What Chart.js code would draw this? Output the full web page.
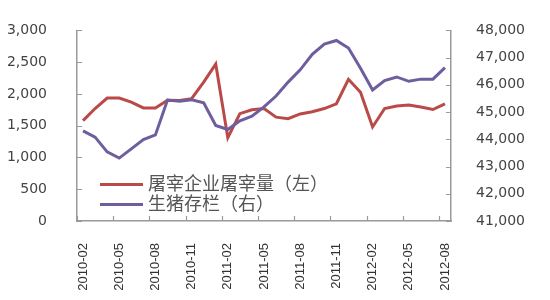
<!DOCTYPE html>
<html>
<head>
<meta charset="utf-8">
<script src="https://cdn.jsdelivr.net/npm/chart.js@4.4.0/dist/chart.umd.min.js"></script>
<style>
  body { margin: 0; background: #fff; }
  #wrap { position: relative; width: 550px; height: 300px; }
  #legend {
    position: absolute; left: 100px; top: 172px;
    font-family: "Noto Sans CJK SC", sans-serif; font-size: 18px; color: #555;
    line-height: 20px;
  }
  #legend div { white-space: nowrap; }
  #legend span {
    display: inline-block; width: 43px; height: 3px; margin-right: 5px;
    vertical-align: middle; position: relative; top: -1px;
  }
</style>
</head>
<body>
<div id="wrap">
  <canvas id="chart" width="550" height="300"></canvas>
  <div id="legend"></div>
</div>
<script>
// monthly categories
const months = [
  "2010-02", "2010-03", "2010-04", "2010-05", "2010-06", "2010-07", "2010-08",
  "2010-09", "2010-10", "2010-11", "2010-12", "2011-01", "2011-02", "2011-03",
  "2011-04", "2011-05", "2011-06", "2011-07", "2011-08", "2011-09", "2011-10",
  "2011-11", "2011-12", "2012-01", "2012-02", "2012-03", "2012-04", "2012-05",
  "2012-06", "2012-07", "2012-08"
];

// 屠宰企业屠宰量 (left axis)
const slaughter = [
  1580, 1770, 1935, 1935, 1870, 1780, 1780, 1900, 1895, 1925, 2185,
  2470, 1310, 1690, 1750, 1770, 1635, 1610, 1685, 1720, 1770, 1845,
  2230, 2025, 1480, 1770, 1810, 1825, 1795, 1755, 1845
];

// 生猪存栏 (right axis)
const hogStock = [
  44310, 44080, 43540, 43310, 43650, 43990, 44160, 45440, 45400, 45450, 45340,
  44510, 44360, 44680, 44850, 45190, 45590, 46100, 46550, 47120, 47500, 47630,
  47350, 46610, 45810, 46160, 46290, 46130, 46210, 46210, 46630
];

const seriesNames = ["屠宰企业屠宰量（左）", "生猪存栏（右）"];
const seriesColors = ["#B94A47", "#6F5E9E"];

const axisGray = "#9a9a9a";
const tickFont = { family: "DejaVu Sans", size: 14 };

// short inward tick marks like the original
const innerTicks = {
  id: "innerTicks",
  afterDraw(chart) {
    const { ctx, chartArea: a, scales } = chart;
    ctx.save();
    ctx.strokeStyle = axisGray;
    ctx.lineWidth = 1.2;
    ctx.beginPath();
    scales.y.ticks.forEach((t, i) => {
      const py = Math.round(scales.y.getPixelForTick(i)) + 0.5;
      ctx.moveTo(a.left, py);
      ctx.lineTo(a.left + 5, py);
    });
    scales.y1.ticks.forEach((t, i) => {
      const py = Math.round(scales.y1.getPixelForTick(i)) + 0.5;
      ctx.moveTo(a.right, py);
      ctx.lineTo(a.right - 5, py);
    });
    const n = months.length;
    const w = (a.right - a.left) / n;
    for (let i = 0; i < n; i += 3) {
      const px = Math.round(a.left + i * w) + 0.5;
      ctx.moveTo(px, a.bottom);
      ctx.lineTo(px, a.bottom - 5);
    }
    ctx.stroke();
    ctx.restore();
  }
};

new Chart(document.getElementById("chart"), {
  type: "line",
  data: {
    labels: months,
    datasets: [{
      label: seriesNames[0],
      data: slaughter,
      yAxisID: "y",
      borderColor: seriesColors[0],
      borderWidth: 3,
      pointRadius: 0,
      fill: false,
      order: 1
    }, {
      label: seriesNames[1],
      data: hogStock,
      yAxisID: "y1",
      borderColor: seriesColors[1],
      borderWidth: 3,
      pointRadius: 0,
      fill: false,
      order: 0
    }]
  },
  options: {
    responsive: false,
    animation: false,
    layout: { padding: { top: 16, left: 0, right: 0, bottom: 0 } },
    plugins: {
      legend: { display: false },
      tooltip: { enabled: false }
    },
    scales: {
      x: {
        offset: true,
        grid: { display: false, offset: true },
        border: { display: true, color: axisGray, width: 1.5 },
        afterFit: (s) => { s.height = 79; },
        ticks: {
          autoSkip: false,
          minRotation: 90,
          maxRotation: 90,
          padding: 14,
          color: "#333",
          font: { family: "Liberation Sans", size: 13 },
          callback: function (val, i) {
            return i % 3 === 0 ? this.getLabelForValue(val) : "";
          }
        }
      },
      y: {
        position: "left",
        min: 0,
        max: 3000,
        grid: { display: false },
        border: { display: true, color: axisGray, width: 1.5 },
        afterFit: (s) => { s.width = 77; },
        ticks: { stepSize: 500, padding: 22, color: "#444", font: tickFont }
      },
      y1: {
        position: "right",
        min: 41000,
        max: 48000,
        grid: { display: false },
        border: { display: true, color: axisGray, width: 1.5 },
        afterFit: (s) => { s.width = 99; },
        ticks: { stepSize: 1000, padding: 17, color: "#444", font: tickFont }
      }
    }
  },
  plugins: [innerTicks]
});

// legend inside the plot area
const legend = document.getElementById("legend");
seriesNames.forEach((name, i) => {
  const row = document.createElement("div");
  const swatch = document.createElement("span");
  swatch.style.background = seriesColors[i];
  row.appendChild(swatch);
  row.appendChild(document.createTextNode(name));
  legend.appendChild(row);
});
</script>
</body>
</html>
